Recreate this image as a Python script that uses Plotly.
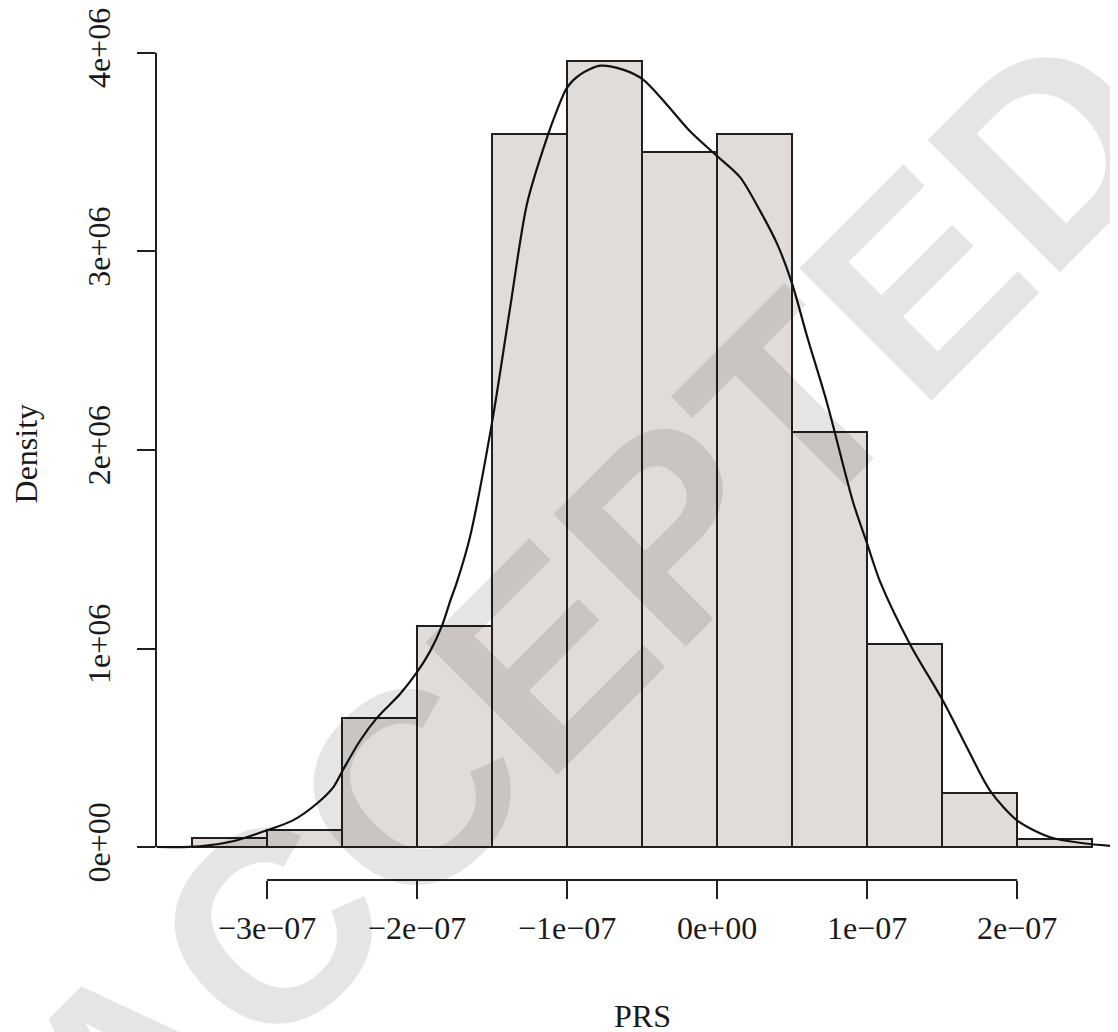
import plotly.graph_objects as go

# ---- data ----
bin_left = [-3.5e-7, -3.0e-7, -2.5e-7, -2.0e-7, -1.5e-7, -1.0e-7, -0.5e-7, 0.0, 0.5e-7, 1.0e-7, 1.5e-7, 2.0e-7]
bin_width = 0.5e-7
density_hist = [0.044e6, 0.089e6, 0.651e6, 1.116e6, 3.59e6, 3.96e6, 3.50e6, 3.59e6, 2.09e6, 1.022e6, 0.275e6, 0.043e6]

curve_x = [-3.733, -3.447, -3.227, -3.0, -2.827, -2.667, -2.56, -2.493, -2.38, -2.267, -2.113, -2.0,
           -1.913, -1.833, -1.78, -1.733, -1.647, -1.5, -1.38, -1.267, -1.133, -1.067, -1.0, -0.913, -0.78,
           -0.627, -0.493, -0.347, -0.18, -0.013, 0.153, 0.287, 0.4, 0.5, 0.6, 0.733, 0.907, 1.0,
           1.087, 1.287, 1.507, 1.667, 1.82, 2.0, 2.22, 2.44, 2.667]  # units of 1e-7
curve_y = [0.001, 0.004, 0.030, 0.085, 0.135, 0.22, 0.30, 0.39, 0.536, 0.651, 0.771, 0.881,
           0.986, 1.116, 1.237, 1.337, 1.562, 2.138, 2.713, 3.239, 3.574, 3.71, 3.825, 3.89, 3.935,
           3.915, 3.865, 3.75, 3.605, 3.489, 3.374, 3.204, 3.039, 2.839, 2.573, 2.238, 1.737, 1.53,
           1.337, 1.021, 0.736, 0.501, 0.285, 0.135, 0.05, 0.02, 0.004]  # units of 1e6

x_ticks = [-3e-7, -2e-7, -1e-7, 0.0, 1e-7, 2e-7]
x_tick_labels = ["\u22123e\u221207", "\u22122e\u221207", "\u22121e\u221207", "0e+00", "1e\u221207", "2e\u221207"]
y_ticks = [0, 1e6, 2e6, 3e6, 4e6]
y_tick_labels = ["0e+00", "1e+06", "2e+06", "3e+06", "4e+06"]

x_range = [-3.74e-7, 2.673e-7]
y_range = [-0.1652e6, 4.2003e6]

# ---- figure ----
FONT = "Liberation Serif"
ink = "#231f1c"
txt = "#1a1a1a"

bin_centers = [b + bin_width / 2 for b in bin_left]

fig = go.Figure()
fig.add_trace(go.Bar(
    x=bin_centers, y=density_hist, width=bin_width,
    marker=dict(color="#e2dcd8", line=dict(color=ink, width=2)),
    showlegend=False, hoverinfo="skip",
))
fig.add_trace(go.Scatter(
    x=[v * 1e-7 for v in curve_x], y=[v * 1e6 for v in curve_y],
    mode="lines", line=dict(color="#111111", width=2.2, shape="spline", smoothing=0.8),
    showlegend=False, hoverinfo="skip",
))

def xp(v):
    return (v - x_range[0]) / (x_range[1] - x_range[0])

def yp(v):
    return (v - y_range[0]) / (y_range[1] - y_range[0])

shapes = [
    dict(type="line", xref="paper", yref="paper", x0=xp(min(x_ticks)), x1=xp(max(x_ticks)), y0=0, y1=0,
         line=dict(color=ink, width=2)),
    dict(type="line", xref="paper", yref="paper", x0=0, x1=0, y0=yp(min(y_ticks)), y1=yp(max(y_ticks)),
         line=dict(color=ink, width=2)),
]

W, H = 1110, 1024
L, B = 148, 152
PW, PH = W - L, H - B

fig.update_layout(
    width=W, height=H,
    margin=dict(l=L, r=0, t=0, b=B),
    plot_bgcolor="white", paper_bgcolor="white",
    bargap=0,
    shapes=shapes,
    xaxis=dict(range=x_range, tickvals=x_ticks, ticktext=x_tick_labels, ticks="outside", ticklen=18,
               tickwidth=2, tickcolor=ink, showline=False, showgrid=False, zeroline=False,
               ticklabelstandoff=2, ticklabeloverflow="allow",
               tickfont=dict(family=FONT, size=32, color=txt)),
    yaxis=dict(range=y_range, tickvals=y_ticks, ticktext=y_tick_labels, ticks="outside", ticklen=18,
               tickwidth=2, tickcolor=ink, showline=False, showgrid=False, zeroline=False, tickangle=-90,
               ticklabelstandoff=14, ticklabeloverflow="allow",
               tickfont=dict(family=FONT, size=32, color=txt)),
    annotations=[
        dict(text="Density", xref="paper", yref="paper", x=(18 - L) / PW, y=1 - 443 / PH,
             xanchor="center", yanchor="middle", textangle=-90, showarrow=False,
             font=dict(family=FONT, size=32, color=txt)),
        dict(text="PRS", xref="x", yref="paper", x=(x_range[0] + 2.74e-7) / 2, y=(PH - 1009) / PH,
             xanchor="center", yanchor="middle", showarrow=False,
             font=dict(family=FONT, size=32, color=txt)),
        dict(text="<b>ACCEPTED</b>", xref="paper", yref="paper", x=(582 - L) / PW, y=1 - 599 / PH,
             xanchor="center", yanchor="middle", textangle=-45, showarrow=False,
             font=dict(family="Liberation Sans", size=272, color="rgba(0,0,0,0.1)")),
    ],
)

fig.write_html("out.html")
